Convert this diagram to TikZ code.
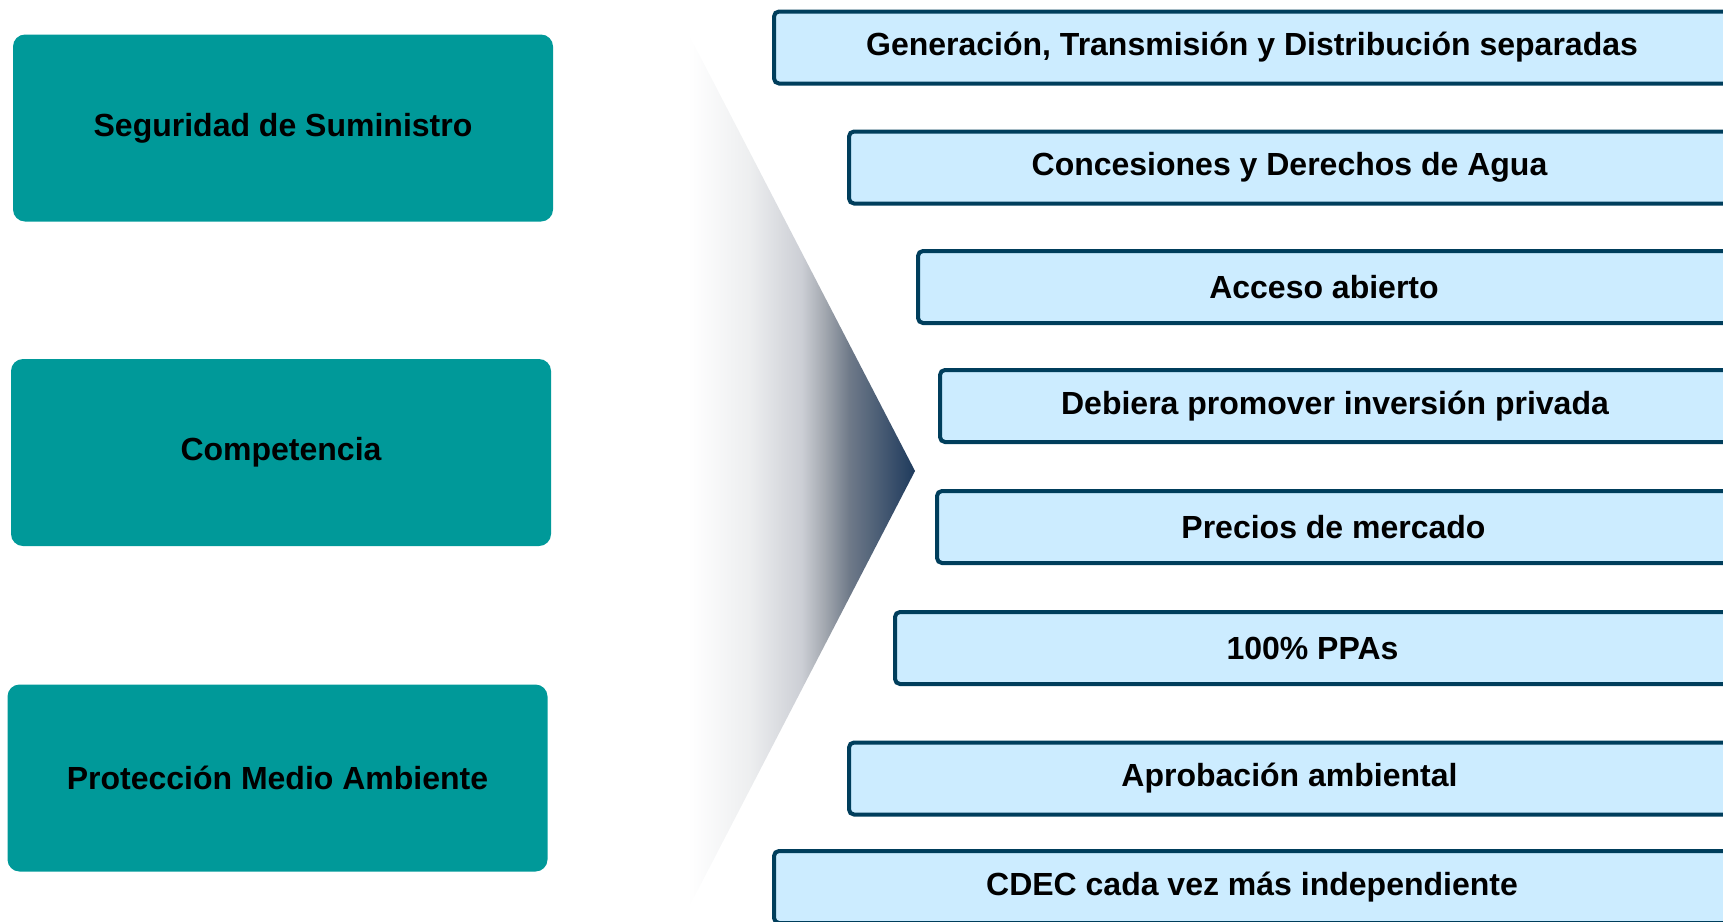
\documentclass[tikz,border=0pt]{standalone}
\usepackage{fontspec}
\setmainfont{Liberation Sans}
\definecolor{tealbox}{RGB}{0,153,153}
\definecolor{itemfill}{RGB}{204,236,255}
\definecolor{itemline}{RGB}{0,62,92}
% white-to-navy fade, kept light over its left half
\pgfdeclarehorizontalshading{chevshade}{100bp}{%
  rgb(0bp)=(1,1,1);
  rgb(25bp)=(1,1,1);
  rgb(38.5bp)=(0.93,0.935,0.94);
  rgb(50bp)=(0.80,0.81,0.835);
  rgb(55bp)=(0.64,0.66,0.69);
  rgb(60.5bp)=(0.435,0.478,0.537);
  rgb(75bp)=(0.118,0.227,0.361);
  rgb(100bp)=(0.118,0.227,0.361)}
\begin{document}
\begin{tikzpicture}[x=1pt,y=-1pt,
  goalbox/.style={fill=tealbox, draw=none, rounded corners=12pt,
    minimum width=540pt, minimum height=187pt, inner sep=0pt,
    font=\fontsize{32}{38}\selectfont\bfseries, text=black},
  itembox/.style={fill=itemfill, draw=itemline, line width=4pt, rounded corners=5pt,
    anchor=west, minimum height=72pt, inner sep=0pt,
    font=\fontsize{32}{38}\selectfont\bfseries, text=black}]
  \useasboundingbox (0,0) rectangle (1723,921);
  \clip (0,0) rectangle (1723,921);

  % policy goals
  \node[goalbox] (g1) at (283,128) {Seguridad de Suministro};
  \node[goalbox] (g2) at (281,452.5) {Competencia};
  \node[goalbox] (g3) at (277.5,778) {Protección Medio Ambiente};

  % shaded chevron pointing at the measures
  \shade[shading=chevshade] (688,33) -- (915,471) -- (688,909) -- cycle;

  % market measures
  \node[itembox, minimum width=956pt] (m1) at (772,47.5) {Generación, Transmisión y Distribución separadas};
  \node[itembox, minimum width=881pt] (m2) at (847,167.5) {Concesiones y Derechos de Agua};
  \node[itembox, minimum width=812pt] (m3) at (916,287) {Acceso abierto};
  \node[itembox, minimum width=790pt] (m4) at (938,406) {Debiera promover inversión privada};
  \node[itembox, minimum width=793pt] (m5) at (935,527) {Precios de mercado};
  \node[itembox, minimum width=835pt] (m6) at (893,648) {100\% PPAs};
  \node[itembox, minimum width=881pt] (m7) at (847,778.5) {Aprobación ambiental};
  \node[itembox, minimum width=956pt] (m8) at (772,887) {CDEC cada vez más independiente};
\end{tikzpicture}
\end{document}
